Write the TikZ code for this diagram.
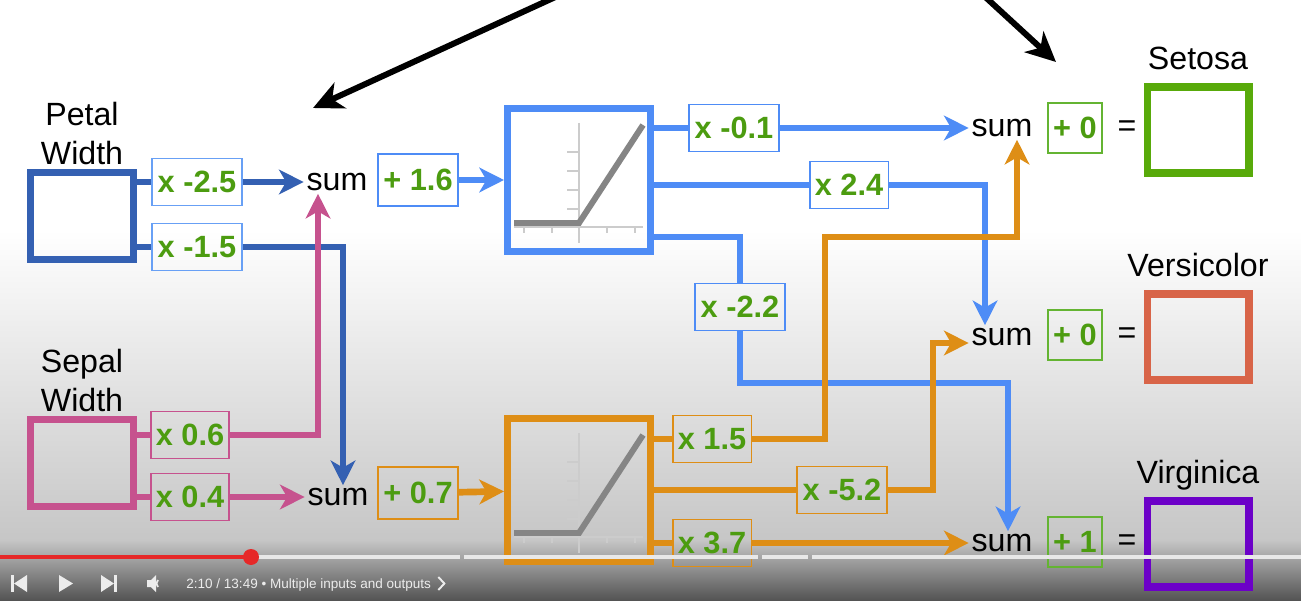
\documentclass[tikz,border=0pt]{standalone}
\usepackage{fontspec}
\setmainfont{Liberation Sans}
\usepackage{xcolor}
\usetikzlibrary{positioning,arrows.meta,calc}

\definecolor{petalblue}{RGB}{52,96,178}
\definecolor{sepalpink}{RGB}{198,82,142}
\definecolor{relublue}{RGB}{78,140,246}
\definecolor{reluorange}{RGB}{222,142,22}
\definecolor{numgreen}{RGB}{76,156,16}
\definecolor{biasgreen}{RGB}{100,180,50}
\definecolor{setosagreen}{RGB}{88,170,10}
\definecolor{versired}{RGB}{216,100,72}
\definecolor{virgpurple}{RGB}{108,0,200}
\definecolor{wblue}{RGB}{104,160,245}
\definecolor{bgdeep}{RGB}{198,198,198}
\definecolor{bgbar}{RGB}{82,82,82}
\definecolor{ytred}{RGB}{230,40,40}
\definecolor{ctrlgray}{RGB}{236,236,236}

% little relu plot inside a box
\newcommand{\reluicon}[1]{%
  \begin{scope}[shift={(#1.center)}]
    \draw[axisln] (-65,47) -- (64,47);
    \draw[axisln] (0,-57) -- (0,63);
    \foreach \tx in {-55,-27,28,56} \draw[axisln] (\tx,47) -- (\tx,53);
    \foreach \ty in {-28,-9,10,29} \draw[axisln] (-12,\ty) -- (0,\ty);
    \draw[reluln] (-65,43) -- (0,43) -- (64,-55);
  \end{scope}}

\begin{document}
\begin{tikzpicture}[x=0.02cm, y=-0.02cm,
    inbox/.style={draw, line width=4pt, minimum width=2.06cm, minimum height=1.74cm},
    outbox/.style={draw, line width=4pt, minimum width=2.04cm, minimum height=1.72cm},
    relubox/.style={draw, line width=4pt, minimum width=2.86cm, minimum height=2.86cm},
    lbl/.style={font=\fontsize{18.3}{22}\selectfont, align=center, inner sep=0pt, text depth=0pt},
    sumtxt/.style={font=\fontsize{18.3}{22}\selectfont, inner sep=1.5pt},
    wbox/.style={draw, line width=1.1pt, minimum height=0.94cm, inner xsep=3pt, text=numgreen, font=\fontsize{17.5}{20}\selectfont\bfseries},
    bbox/.style={wbox, minimum height=1.04cm},
    ln/.style={line width=3.8pt, draw=#1},
    arr/.style={-{Stealth[length=14pt, width=14pt, inset=4pt]}},
    pointer/.style={line width=3.4pt, -{Stealth[length=17pt, width=16pt, inset=5pt]}},
    axisln/.style={draw=black!20, line width=1.4pt},
    reluln/.style={draw=black!48, line width=3.4pt}
  ]
  \useasboundingbox (0,0) rectangle (1301,601);
  \fill[white] (0,0) rectangle (1301,601);
  \shade[top color=white, bottom color=bgdeep] (0,230) rectangle (1301,541);
  \shade[top color=bgdeep, bottom color=bgbar] (0,540) rectangle (1301,601);

  % inputs
  \node[inbox, draw=petalblue] (petal) at (82,216) {};
  \node[inbox, draw=sepalpink] (sepal) at (82,463) {};
  \node[lbl, above=0.09cm of petal] (petalL) {Petal\\Width};
  \node[lbl, above=0.08cm of sepal] (sepalL) {Sepal\\Width};

  % weights into the hidden layer
  \node[wbox, draw=wblue] (w1) at (197,182) {x -2.5};
  \node[wbox, draw=wblue] (w2) at (197,247) {x -1.5};
  \node[wbox, draw=sepalpink] (w3) at (190,435) {x 0.6};
  \node[wbox, draw=sepalpink] (w4) at (190,497) {x 0.4};

  \node[sumtxt] (sum1) at (337,182) {sum};
  \node[sumtxt] (sum2) at (338,497) {sum};
  \node[bbox, draw=relublue] (b1) at (418,180) {+ 1.6};
  \node[bbox, draw=reluorange] (b2) at (418,493) {+ 0.7};

  \node[relubox, draw=relublue] (relu1) at (579,180) {};
  \node[relubox, draw=reluorange] (relu2) at (579,490) {};
  \reluicon{relu1}
  \reluicon{relu2}

  % weights into the outputs
  \node[wbox, draw=relublue] (w5) at (734,128) {x -0.1};
  \node[wbox, draw=relublue] (w6) at (849,185) {x 2.4};
  \node[wbox, draw=relublue] (w7) at (740,307) {x -2.2};
  \node[wbox, draw=reluorange] (w8) at (712,439) {x 1.5};
  \node[wbox, draw=reluorange] (w9) at (842,490) {x -5.2};
  \node[wbox, draw=reluorange] (w10) at (712,543) {x 3.7};

  \node[sumtxt] (sum3) at (1002,128) {sum};
  \node[sumtxt] (sum4) at (1002,337) {sum};
  \node[sumtxt] (sum5) at (1002,543) {sum};
  \node[bbox, draw=biasgreen, minimum height=1cm] (b3) at (1075,128) {+ 0};
  \node[bbox, draw=biasgreen, minimum height=1cm] (b4) at (1075,335) {+ 0};
  \node[bbox, draw=biasgreen, minimum height=1cm] (b5) at (1075,542) {+ 1};
  \node[sumtxt] (eq3) at (1127,129) {=};
  \node[sumtxt] (eq4) at (1127,336) {=};
  \node[sumtxt] (eq5) at (1127,543) {=};

  \node[outbox, draw=setosagreen] (setosa) at (1198,130) {};
  \node[outbox, draw=versired] (versi) at (1198,337) {};
  \node[outbox, draw=virgpurple] (virgi) at (1198,544) {};
  \node[lbl, above=0.28cm of setosa] (setosaL) {Setosa};
  \node[lbl, above=0.28cm of versi] (versiL) {Versicolor};
  \node[lbl, above=0.28cm of virgi] (virgiL) {Virginica};

  \coordinate (k1) at (740,237);
  \coordinate (k2) at (1008,383);
  \coordinate (k3) at (825,237);
  \coordinate (k4) at (933,343);

  % petal width
  \draw[ln=petalblue] (petal.east |- w1) -- (w1);
  \draw[ln=petalblue, arr] (w1) -- (sum1);
  \draw[ln=petalblue] (petal.east |- w2) -- (w2);
  \draw[ln=petalblue, arr] (w2) -| ([xshift=0.1cm]sum2.north);
  % sepal width
  \draw[ln=sepalpink] (sepal.east |- w3) -- (w3);
  \draw[ln=sepalpink, arr] (w3) -| ([xshift=-0.38cm]sum1.south);
  \draw[ln=sepalpink] (sepal.east |- w4) -- (w4);
  \draw[ln=sepalpink, arr] (w4) -- (sum2);

  \draw[ln=relublue, arr] (b1) -- (relu1);
  \draw[ln=reluorange, arr] (b2) -- (relu2);

  % top relu out
  \draw[ln=relublue] (relu1.east |- w5) -- (w5);
  \draw[ln=relublue, arr] (w5) -- (sum3);
  \draw[ln=relublue] (relu1.east |- w6) -- (w6);
  \draw[ln=relublue, arr] (w6) -| ([xshift=-0.34cm]sum4.north);
  \draw[ln=relublue] (relu1.east |- k1) -- (k1) -- (w7);
  \draw[ln=relublue, arr] (w7) |- (k2) -- (k2 |- sum5.north);

  % bottom relu out
  \draw[ln=reluorange] (relu2.east |- w8) -- (w8);
  \draw[ln=reluorange, arr] (w8) -| (k3) -| ([xshift=0.3cm]sum3.south);
  \draw[ln=reluorange] (relu2.east |- w9) -- (w9);
  \draw[ln=reluorange, arr] (w9) -| (k4) -- (k4 -| sum4.west);
  \draw[ln=reluorange] (relu2.east |- w10) -- (w10);
  \draw[ln=reluorange, arr] (w10) -- (sum5);

  % black pointers
  \coordinate (t1) at (562,-6);
  \coordinate (t2) at (313,108);
  \coordinate (t3) at (982,-6);
  \coordinate (t4) at (1056,62);
  \draw[pointer] (t1) -- (t2);
  \draw[pointer] (t3) -- (t4);

  % player bar
  \draw[ytred, line width=1.8pt] (0,557) -- (250,557);
  \draw[white!82!gray, line width=1.8pt] (250,557) -- (460,557) (464,557) -- (758,557)
    (762,557) -- (808,557) (812,557) -- (1301,557);
  \fill[ytred] (251,557) circle[radius=0.16cm];
  \fill[ctrlgray] (11,575) rectangle (14,592);
  \fill[ctrlgray] (27,575) -- (27,592) -- (14,583.5) -- cycle;
  \fill[ctrlgray] (59,575) -- (59,592) -- (73,583.5) -- cycle;
  \fill[ctrlgray] (101,575) -- (101,592) -- (114,583.5) -- cycle;
  \fill[ctrlgray] (114,575) rectangle (117,592);
  \fill[ctrlgray] (147,580) -- (151,580) -- (156,575) -- (156,592) -- (151,587) -- (147,587) -- cycle;
  \draw[ctrlgray, line width=1pt] (158,580) to[bend right=50] (158,587);
  \node[font=\fontsize{7.7}{9}\selectfont, text=ctrlgray, anchor=base west, inner sep=0pt] (vidtime) at (186,588)
    {2:10 / 13:49 \textbullet\ Multiple inputs and outputs};
  \draw[ctrlgray, line width=1.1pt] ([xshift=0.14cm]vidtime.east |- 0,577) -- ([xshift=0.26cm]vidtime.east |- 0,583.5) -- ([xshift=0.14cm]vidtime.east |- 0,590);
\end{tikzpicture}
\end{document}
